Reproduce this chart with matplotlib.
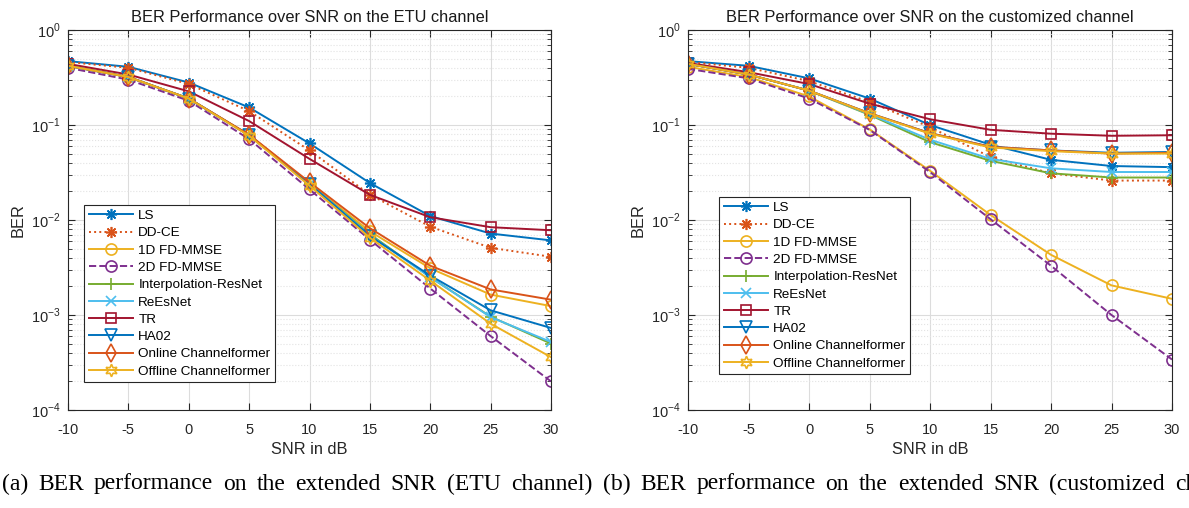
import matplotlib
matplotlib.use("Agg")
import matplotlib.pyplot as plt
from matplotlib.ticker import LogLocator, NullFormatter, FixedLocator

snr = [-10, -5, 0, 5, 10, 15, 20, 25, 30]

names = ["LS", "DD-CE", "1D FD-MMSE", "2D FD-MMSE", "Interpolation-ResNet",
         "ReEsNet", "TR", "HA02", "Online Channelformer", "Offline Channelformer"]

# ETU channel (a)
etu_ls      = [0.47, 0.41, 0.28, 0.153, 0.064, 0.0245, 0.011, 0.0072, 0.0061]
etu_ddce    = [0.46, 0.40, 0.27, 0.140, 0.054, 0.0185, 0.0085, 0.0051, 0.0041]
etu_1d      = [0.42, 0.32, 0.19, 0.078, 0.024, 0.0076, 0.0031, 0.00164, 0.00124]
etu_2d      = [0.40, 0.30, 0.18, 0.071, 0.021, 0.0062, 0.0019, 0.0006, 0.0002]
etu_interp  = [0.42, 0.32, 0.19, 0.078, 0.024, 0.0071, 0.0025, 0.00096, 0.0005]
etu_reesnet = [0.42, 0.32, 0.19, 0.078, 0.024, 0.0069, 0.0025, 0.00095, 0.00052]
etu_tr      = [0.44, 0.34, 0.226, 0.11, 0.044, 0.0184, 0.0107, 0.0084, 0.0078]
etu_ha02    = [0.42, 0.32, 0.19, 0.078, 0.024, 0.0068, 0.0026, 0.00112, 0.00073]
etu_online  = [0.42, 0.32, 0.19, 0.079, 0.025, 0.0082, 0.0033, 0.00186, 0.00145]
etu_offline = [0.42, 0.32, 0.19, 0.077, 0.023, 0.0065, 0.0023, 0.00081, 0.00036]

# customized channel (b)
cus_ls      = [0.47, 0.42, 0.31, 0.19, 0.100, 0.062, 0.043, 0.037, 0.036]
cus_ddce    = [0.46, 0.40, 0.29, 0.175, 0.095, 0.046, 0.031, 0.026, 0.026]
cus_1d      = [0.41, 0.32, 0.20, 0.090, 0.033, 0.0113, 0.0043, 0.00205, 0.00148]
cus_2d      = [0.39, 0.31, 0.19, 0.089, 0.032, 0.0102, 0.0033, 0.001, 0.00034]
cus_interp  = [0.44, 0.34, 0.23, 0.128, 0.066, 0.042, 0.031, 0.028, 0.028]
cus_reesnet = [0.44, 0.34, 0.23, 0.130, 0.070, 0.044, 0.035, 0.032, 0.032]
cus_tr      = [0.45, 0.36, 0.27, 0.168, 0.115, 0.089, 0.081, 0.077, 0.078]
cus_ha02    = [0.44, 0.34, 0.23, 0.133, 0.082, 0.059, 0.054, 0.051, 0.052]
cus_online  = [0.44, 0.34, 0.23, 0.133, 0.082, 0.059, 0.054, 0.050, 0.051]
cus_offline = [0.44, 0.34, 0.23, 0.132, 0.081, 0.058, 0.053, 0.050, 0.050]

titles = ["BER Performance over SNR on the ETU channel",
          "BER Performance over SNR on the customized channel"]
captions = ["(a) BER performance on the extended SNR (ETU channel)",
            "(b) BER performance on the extended SNR (customized channel)"]

colors = ["#0072BD", "#D95319", "#EDB120", "#7E2F8E", "#77AC30",
          "#4DBEEE", "#A2142F", "#0072BD", "#D95319", "#EDB120"]
markers = [(8, 2, 0), (8, 2, 0), "o", "o", "+", "x", "s", "v", "d", (6, 1, 0)]
styles = ["-", ":", "-", "--", "-", "-", "-", "-", "-", "-"]
msizes = [8, 8, 8, 8, 9, 7, 7, 8, 9, 9]
filled_flags = [True, True, False, False, True, True, False, False, False, False]

plt.rcParams['font.family'] = ['Liberation Sans', 'DejaVu Sans']
plt.rcParams['mathtext.fontset'] = 'custom'
plt.rcParams['mathtext.rm'] = 'Liberation Sans'

fig = plt.figure(figsize=(11.89, 5.08), dpi=100)
W, H = 1189, 508
ax1 = fig.add_axes([68 / W, (H - 410) / H, (551 - 68) / W, (410 - 30) / H])
ax2 = fig.add_axes([688 / W, (H - 410) / H, (1172 - 688) / W, (410 - 30) / H])

datasets = [
    [etu_ls, etu_ddce, etu_1d, etu_2d, etu_interp, etu_reesnet, etu_tr, etu_ha02, etu_online, etu_offline],
    [cus_ls, cus_ddce, cus_1d, cus_2d, cus_interp, cus_reesnet, cus_tr, cus_ha02, cus_online, cus_offline],
]
legend_boxes = [(84 / W, (H - 205) / H), (719 / W, (H - 197) / H)]

for k, (ax, data) in enumerate(zip([ax1, ax2], datasets)):
    for i, y in enumerate(data):
        ax.semilogy(snr, y, linestyle=styles[i], color=colors[i], marker=markers[i],
                    markersize=msizes[i], linewidth=1.4, markeredgewidth=1.2,
                    markerfacecolor=colors[i] if filled_flags[i] else "none",
                    markeredgecolor=colors[i], label=names[i])
    ax.set_xlim(-10, 30)
    ax.set_ylim(1e-4, 1)
    ax.set_xticks([-10, -5, 0, 5, 10, 15, 20, 25, 30])
    ax.set_xticklabels(["-10", "-5", "0", "5", "10", "15", "20", "25", "30"])
    ax.yaxis.set_major_locator(FixedLocator([1e-4, 1e-3, 1e-2, 1e-1, 1]))
    ax.set_yticklabels([r"$10^{-4}$", r"$10^{-3}$", r"$10^{-2}$", r"$10^{-1}$", r"$10^{0}$"])
    ax.yaxis.set_minor_locator(LogLocator(base=10, subs=range(2, 10), numticks=20))
    ax.yaxis.set_minor_formatter(NullFormatter())
    ax.tick_params(which="both", direction="in", top=True, right=True,
                   colors="#262626", labelsize=10.5, labelcolor="#262626")
    ax.tick_params(which="major", length=5)
    ax.tick_params(which="minor", length=3)
    ax.tick_params(axis="x", which="major", pad=9)
    ax.tick_params(axis="y", which="major", pad=5)
    ax.grid(True, which="major", color="#DCDCDC", linewidth=0.8)
    ax.grid(True, which="minor", axis="y", color="#E3E3E3", linestyle=":", linewidth=0.8)
    ax.set_axisbelow(True)
    for s in ax.spines.values():
        s.set_color("#262626")
        s.set_linewidth(0.8)
    ax.set_title(titles[k], fontsize=11.8, color="#1a1a1a", pad=6)
    ax.set_xlabel("SNR in dB", fontsize=11.8, color="#262626", labelpad=4)
    ax.set_ylabel("BER", fontsize=11.8, color="#262626", labelpad=4)
    leg = ax.legend(loc="upper left", bbox_to_anchor=legend_boxes[k],
                    bbox_transform=fig.transFigure, fontsize=9.7, handlelength=3.3,
                    labelspacing=0.36, borderpad=0.35, handletextpad=0.38,
                    borderaxespad=0, fancybox=False, framealpha=1, edgecolor="#262626")
    leg.get_frame().set_linewidth(0.8)

renderer = fig.canvas.get_renderer()


def place_words(text, x0, ycen, gap=None, x1=None):
    words = text.split(" ")
    arts = [fig.text(0, (H - ycen) / H, w, fontsize=17, family="Liberation Serif",
                     va="center", ha="left") for w in words]
    widths = [a.get_window_extent(renderer).width for a in arts]
    if gap is None:
        gap = (x1 - x0 - sum(widths)) / (len(words) - 1)
    x = x0
    for a, w in zip(arts, widths):
        a.set_x(x / W)
        x += w + gap
    return gap


g = place_words(captions[0], 2, 484, x1=592)
place_words(captions[1], 603, 484, gap=g)

fig.savefig("out.png", dpi=100)
